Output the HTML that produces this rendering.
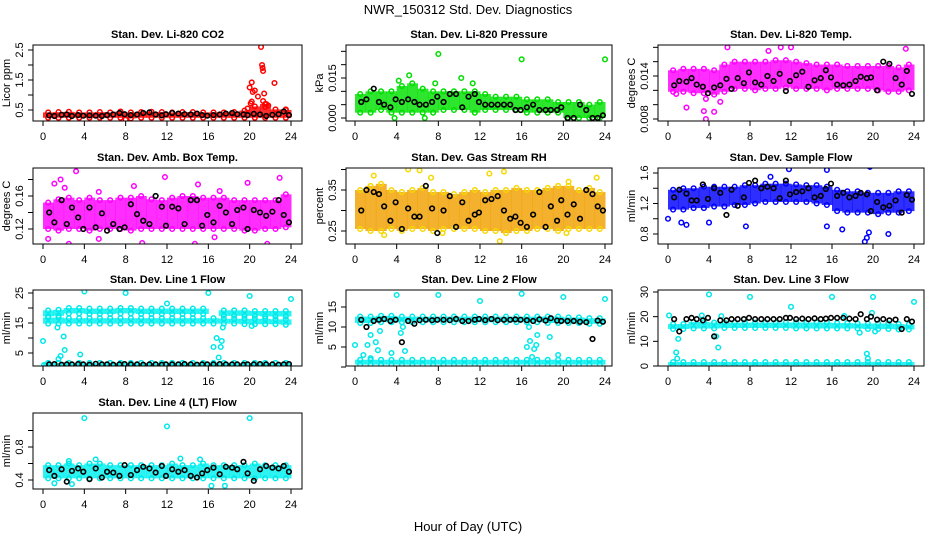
<!DOCTYPE html>
<html><head><meta charset="utf-8"><style>
html,body{margin:0;padding:0;background:#fff;}
svg{display:block;font-family:"Liberation Sans",Arial,sans-serif;}
</style></head><body>
<svg id="c" width="936" height="540" viewBox="0 0 936 540">
<rect width="936" height="540" fill="#fff"/>
<text x="468" y="14" text-anchor="middle" font-size="13">NWR_150312  Std. Dev. Diagnostics</text>
<text x="468" y="531" text-anchor="middle" font-size="13">Hour of Day (UTC)</text>
</svg>
<script>
const blackHours=[0.6,1.1,1.8,2.3,2.8,3.4,3.9,4.5,5.1,5.7,6.2,6.8,7.4,7.9,8.5,9.1,9.7,10.3,10.9,11.5,11.9,12.5,13.1,13.7,14.3,14.9,15.4,15.9,16.5,17.1,17.7,18.3,18.8,19.4,19.8,20.4,21.0,21.6,22.2,22.8,23.3,23.8];
const xTicks=[0,4,8,12,16,20,24];

// CO2
const co2Black=[0.32,0.30,0.34,0.35,0.30,0.33,0.31,0.32,0.31,0.30,0.33,0.35,0.40,0.36,0.33,0.35,0.40,0.42,0.35,0.32,0.36,0.40,0.38,0.36,0.35,0.38,0.33,0.31,0.33,0.35,0.38,0.40,0.36,0.35,0.33,0.37,0.35,0.30,0.34,0.36,0.45,0.33];
const co2Lo=[0.24,0.24,0.24,0.24,0.24,0.24,0.24,0.24,0.22,0.24,0.24,0.24,0.24,0.24,0.24,0.24,0.24,0.24,0.24,0.24,0.24,0.24,0.24,0.24];
const co2Hi=[0.42,0.43,0.44,0.42,0.42,0.43,0.42,0.45,0.42,0.43,0.44,0.43,0.42,0.43,0.43,0.42,0.42,0.42,0.43,0.48,0.62,0.70,0.52,0.50];
const co2Out=[[19.8,0.55],[20.0,1.25],[20.2,1.42],[20.3,1.10],[20.1,0.72],[20.5,1.15],[20.8,0.95],[21.1,2.60],[21.2,2.00],[21.25,1.90],[21.3,1.80],[21.4,1.05],[21.3,0.80],[21.5,0.60],[21.6,0.70],[21.8,0.65],[22.4,1.40],[20.2,0.78],[23.5,0.52],[8.0,0.18]];
// Pressure
const presBlack=[0.006,0.007,0.011,0.006,0.005,0.004,0.007,0.006,0.007,0.006,0.005,0.005,0.006,0.008,0.006,0.009,0.009,0.004,0.008,0.009,0.006,0.005,0.005,0.005,0.005,0.005,0.003,0.003,0.004,0.005,0.003,0.003,0.003,0.003,0.004,0.000,0.000,0.005,0.003,0.000,0.000,0.001];
const presLo=[0.002,0.002,0.003,0.002,0.002,0.002,0.002,0.002,0.003,0.003,0.003,0.002,0.003,0.003,0.003,0.003,0.002,0.002,0.002,0.002,0.000,0.000,0.000,0.000];
const presHi=[0.009,0.010,0.010,0.010,0.012,0.013,0.011,0.010,0.010,0.010,0.010,0.010,0.009,0.008,0.008,0.008,0.007,0.007,0.007,0.006,0.006,0.006,0.005,0.006];
const presOut=[[8,0.024],[16,0.022],[24,0.022],[5.2,0.016],[10.2,0.015],[11.3,0.013],[4.2,0.014],[6.7,0.0],[3.8,0.0],[7.7,0.013]];
// Li-820 Temp
const tempBlack=[0.0127,0.0133,0.0132,0.0137,0.0128,0.0125,0.0116,0.0124,0.0127,0.0136,0.0122,0.0137,0.0130,0.0145,0.0131,0.0128,0.0140,0.0133,0.0143,0.0119,0.0133,0.0141,0.0146,0.0125,0.0134,0.0137,0.0148,0.0138,0.0128,0.0127,0.0128,0.0133,0.0139,0.0137,0.0138,0.0120,0.0160,0.0157,0.0137,0.0128,0.0147,0.0115];
const tempLo=[0.0118,0.0118,0.0116,0.0116,0.0114,0.0118,0.0122,0.0122,0.0120,0.0122,0.0122,0.0124,0.0122,0.0122,0.0122,0.0120,0.0122,0.0122,0.0122,0.0122,0.0120,0.0118,0.0118,0.0120];
const tempHi=[0.0148,0.0150,0.0150,0.0150,0.0148,0.0156,0.0160,0.0160,0.0160,0.0160,0.0162,0.0162,0.0160,0.0158,0.0156,0.0156,0.0156,0.0154,0.0154,0.0154,0.0154,0.0154,0.0152,0.0156];
const tempOut=[[1.8,0.0096],[3.5,0.0091],[3.7,0.0080],[4.5,0.0090],[5.1,0.0104],[3.7,0.0108],[5.8,0.0180],[11,0.0180],[12,0.0180],[23.2,0.0178],[0.8,0.0115],[9.8,0.0175]];
// Amb Box Temp
const ambBlack=[0.140,0.128,0.155,0.126,0.146,0.134,0.120,0.146,0.122,0.139,0.118,0.126,0.120,0.122,0.150,0.138,0.130,0.126,0.160,0.147,0.124,0.147,0.145,0.126,0.155,0.155,0.124,0.137,0.128,0.148,0.140,0.126,0.143,0.146,0.120,0.143,0.140,0.136,0.141,0.155,0.137,0.128];
const ambLo=[0.120,0.118,0.120,0.120,0.118,0.120,0.120,0.120,0.118,0.120,0.120,0.120,0.120,0.120,0.120,0.120,0.120,0.120,0.120,0.118,0.118,0.120,0.120,0.122];
const ambHi=[0.152,0.156,0.158,0.155,0.158,0.155,0.155,0.158,0.158,0.160,0.156,0.155,0.158,0.160,0.160,0.158,0.158,0.158,0.155,0.155,0.155,0.155,0.155,0.162];
const ambOut=[[0.5,0.108],[1.1,0.175],[1.7,0.180],[2.1,0.170],[2.5,0.102],[3.2,0.190],[5.4,0.165],[5.4,0.108],[9.6,0.103],[11.8,0.183],[14.7,0.102],[15.0,0.174],[16.6,0.110],[21.7,0.102],[22.9,0.182],[19.8,0.176],[17.1,0.166],[8.8,0.172]];
// RH
const rhBlack=[0.300,0.350,0.345,0.340,0.310,0.275,0.320,0.255,0.305,0.285,0.285,0.360,0.305,0.245,0.300,0.335,0.260,0.320,0.275,0.290,0.295,0.325,0.328,0.335,0.300,0.280,0.285,0.270,0.260,0.290,0.345,0.260,0.310,0.275,0.325,0.290,0.315,0.280,0.350,0.340,0.310,0.300];
const rhLo=[0.255,0.250,0.250,0.255,0.250,0.255,0.255,0.250,0.255,0.255,0.255,0.255,0.250,0.250,0.245,0.250,0.250,0.255,0.255,0.250,0.255,0.255,0.255,0.255];
const rhHi=[0.350,0.360,0.365,0.350,0.345,0.350,0.355,0.345,0.345,0.340,0.345,0.350,0.345,0.350,0.350,0.355,0.350,0.350,0.355,0.360,0.360,0.350,0.355,0.345];
const rhOut=[[2.8,0.240],[5.1,0.400],[6.2,0.398],[7.3,0.380],[8.4,0.245],[12.9,0.390],[13.9,0.225],[14.3,0.395],[20.3,0.245],[23.2,0.380],[1.8,0.385],[20.5,0.370]];
// Sample Flow
const sfBlack=[1.28,1.38,1.33,1.24,1.24,1.45,1.26,1.40,1.34,1.05,1.38,1.17,1.28,1.47,1.50,1.40,1.42,1.40,1.27,1.50,1.32,1.35,1.36,1.40,1.28,1.30,1.39,1.46,1.30,1.34,1.28,1.30,1.34,1.32,1.10,1.22,1.15,1.17,1.24,1.08,1.31,1.25];
const sfLo=[1.12,1.12,1.14,1.14,1.16,1.16,1.18,1.18,1.20,1.22,1.22,1.22,1.22,1.22,1.20,1.18,1.10,1.08,1.08,1.08,1.06,1.08,1.08,1.10];
const sfHi=[1.38,1.40,1.40,1.42,1.42,1.42,1.42,1.44,1.44,1.46,1.46,1.46,1.45,1.44,1.44,1.42,1.38,1.36,1.36,1.34,1.34,1.34,1.36,1.36];
const sfOut=[[0.0,1.00],[1.3,0.95],[1.8,0.92],[7.6,0.90],[19.2,0.70],[19.4,0.75],[19.6,0.82],[18.7,1.70],[19.7,1.68],[11.8,1.65],[15.5,1.64],[21.5,0.80],[15.5,0.90],[17.0,0.86],[10.0,1.55],[4.0,0.95]];
// Line 1
const l1Black=[1.2,1.3,1.1,1.2,1.2,1.3,1.2,1.1,1.4,1.2,1.2,1.1,1.2,1.3,1.2,1.2,1.1,1.2,1.2,1.1,1.2,1.2,1.2,1.3,1.2,1.1,1.2,1.2,1.2,1.3,1.2,1.2,1.2,1.1,1.2,1.2,1.3,1.2,1.2,1.1,1.2,1.3];
const l1LoA=[0.6,0.6,0.6,0.6,0.6,0.6,0.6,0.6,0.6,0.6,0.6,0.6,0.6,0.6,0.6,0.6,0.6,0.6,0.6,0.6,0.6,0.6,0.6,0.6];
const l1HiA=[1.7,1.7,1.7,1.7,1.7,1.7,1.7,1.7,1.7,1.7,1.7,1.7,1.7,1.7,1.7,1.7,1.7,1.7,1.7,1.7,1.7,1.7,1.7,1.7];
const l1LoB=[14.8,14.8,14.8,14.8,14.8,14.8,14.8,14.8,14.8,14.8,14.8,14.8,14.8,14.8,14.8,14.8,14.8,14.8,14.8,14.6,14.6,14.6,14.6,14.4];
const l1HiB=[16.8,16.8,16.6,16.6,16.6,16.6,16.6,16.6,16.6,16.6,16.6,16.6,16.6,16.6,16.6,16.6,16.6,16.4,16.4,16.4,16.4,16.4,16.2,16.2];
const l1LoC=[17.2,17.4,18.2,18.2,18.0,18.0,18.0,18.2,18.2,18.0,18.0,18.0,18.0,18.0,18.0,18.0,null,17.4,17.4,17.4,17.4,17.2,17.2,17.2];
const l1HiC=[19.2,19.4,20.0,20.0,19.8,19.8,19.8,20.0,20.0,19.8,19.8,19.8,19.8,19.8,19.8,19.8,null,19.2,19.2,19.2,19.0,19.0,19.0,19.0];
const l1Out=[[0.0,9],[0.1,1],[1.5,3],[1.7,4],[2.0,10.5],[2.1,6],[1.4,13.5],[3.6,4.5],[4.0,25.5],[8.0,25],[12.0,21.5],[16.0,25],[20.0,24],[24.0,23],[16.5,7],[16.8,10],[17.0,3.5],[17.2,7],[17.3,9],[17.4,13.5],[20.2,14]];
// Line 2
const l2Black=[11.8,10.0,11.5,11.8,12.0,11.5,11.8,6.2,11.5,10.8,11.7,11.8,11.7,11.8,11.8,11.7,12.0,11.5,11.5,11.8,12.0,11.7,12.0,11.7,11.8,11.8,11.9,11.8,11.7,11.5,11.9,11.6,12.2,11.6,11.5,11.5,11.5,11.3,11.2,7.0,11.6,11.3];
const l2LoA=[0.6,0.6,0.6,0.6,0.6,0.6,0.6,0.6,0.6,0.6,0.6,0.6,0.6,0.6,0.6,0.6,0.6,0.6,0.6,0.6,0.6,0.6,0.6,0.6];
const l2HiA=[1.8,1.8,1.8,1.8,1.8,1.8,1.8,1.8,1.8,1.8,1.8,1.8,1.8,1.8,1.8,1.8,1.8,1.8,1.8,1.8,1.8,1.8,1.8,1.8];
const l2LoB=[11.0,11.0,11.2,11.2,11.2,11.2,11.2,11.2,11.2,11.2,11.2,11.2,11.2,11.2,11.2,11.2,11.2,11.2,11.0,11.0,11.0,11.0,10.8,10.8];
const l2HiB=[12.6,12.6,12.8,12.8,12.6,12.6,12.6,12.6,12.6,12.6,12.6,12.6,12.6,12.6,12.6,12.6,12.6,12.6,12.6,12.6,12.4,12.4,12.2,12.2];
const l2Out=[[0,5.5],[0.8,3],[1.2,5.5],[1.5,8],[2.0,6.2],[2.2,4.2],[2.4,9],[3.5,3.5],[4,18],[4.4,8.5],[4.6,10],[4.8,4],[8,18],[12,16.5],[16,18.3],[16.5,5],[16.7,10],[16.8,6.5],[17,2.5],[17.2,4.5],[17.4,5.5],[17.5,8],[18.7,7.5],[19.5,3],[20,17.5],[24,17],[1.5,2.2]];
// Line 3
const l3Black=[19.0,14.0,19.0,19.5,19.0,18.5,19.5,12.0,18.5,18.5,19.0,19.0,19.0,19.5,19.0,19.0,19.0,19.0,19.0,19.5,19.5,19.0,19.2,19.0,19.3,19.0,19.2,19.5,19.5,19.5,19.2,19.0,21.0,19.0,20.0,18.8,19.0,18.5,18.8,15.0,19.0,18.0];
const l3LoA=[0.3,0.3,0.3,0.3,0.3,0.3,0.3,0.3,0.3,0.3,0.3,0.3,0.3,0.3,0.3,0.3,0.3,0.3,0.3,0.3,0.3,0.3,0.3,0.3];
const l3HiA=[1.6,1.6,1.6,1.6,1.6,1.6,1.6,1.6,1.6,1.6,1.6,1.6,1.6,1.6,1.6,1.6,1.6,1.6,1.6,1.6,1.6,1.6,1.6,1.6];
const l3LoB=[15.0,15.0,15.2,15.2,15.2,15.4,15.4,15.4,15.4,15.4,15.4,15.4,15.2,15.2,15.2,15.2,15.2,15.2,15.2,15.0,15.0,15.0,14.8,14.8];
const l3HiB=[17.0,17.0,17.8,17.8,17.6,17.6,17.6,17.6,17.6,17.6,17.6,17.6,17.6,17.6,17.6,17.6,17.4,17.4,17.2,17.2,17.2,17.2,17.0,16.8];
const l3Out=[[0.1,20.5],[0.8,5.5],[1.0,11],[0.9,3],[3.3,20.5],[4,29],[4.7,12],[4.9,7.5],[8,28],[12,24],[16,28],[18.7,13.5],[19.4,5],[19.5,3],[19.9,21.5],[20,28],[20.2,14],[24,26],[5.2,20.2],[17.2,20.3]];
// Line 4
const l4Black=[0.52,0.45,0.53,0.38,0.51,0.54,0.50,0.41,0.54,0.43,0.50,0.49,0.45,0.58,0.46,0.52,0.56,0.54,0.49,0.57,0.45,0.53,0.50,0.52,0.45,0.43,0.48,0.52,0.55,0.47,0.56,0.55,0.53,0.62,0.48,0.39,0.53,0.57,0.55,0.54,0.57,0.50];
const l4Lo=[0.42,0.42,0.42,0.42,0.42,0.42,0.42,0.42,0.42,0.42,0.42,0.42,0.42,0.42,0.42,0.42,0.42,0.42,0.42,0.42,0.42,0.42,0.42,0.42];
const l4Hi=[0.58,0.58,0.60,0.58,0.60,0.60,0.58,0.58,0.58,0.58,0.58,0.58,0.60,0.58,0.58,0.60,0.58,0.58,0.58,0.58,0.60,0.58,0.58,0.58];
const l4Out=[[4,1.15],[12,1.05],[20,1.15],[2.8,0.35],[16.3,0.33],[17.6,0.33],[1.1,0.36],[13.3,0.66],[5.1,0.65],[2.5,0.63],[15.2,0.65]];

const colL=[33,346,658], colR=[302,612,924], t0=[43,355,668], t24=[291,605,914];
const rowT=[45,168,290,413], BH=76;
const panels=[
 {name:'co2',title:'Stan. Dev. Li-820 CO2',ylab:'Licor ppm',c:0,r:0,v0:0.5,p0:110,v1:2.5,p1:50,ticks:[0.5,1,1.5,2,2.5],labs:[[0.5,'0.5'],[1.5,'1.5'],[2.5,'2.5']],col:'#ff0000',oc:'#ff0000',bands:[[co2Lo,co2Hi]],out:co2Out,black:co2Black},
 {name:'pressure',title:'Stan. Dev. Li-820 Pressure',ylab:'kPa',c:1,r:0,v0:0,p0:118,v1:0.015,p1:78,ticks:[0,0.005,0.01,0.015,0.02,0.025],labs:[[0,'0.000'],[0.015,'0.015']],col:'#00e000',oc:'#00dd00',bands:[[presLo,presHi]],out:presOut,black:presBlack},
 {name:'li820-temp',title:'Stan. Dev. Li-820 Temp.',ylab:'degrees C',c:2,r:0,v0:0.008,p0:119,v1:0.014,p1:76,ticks:[0.008,0.010,0.012,0.014,0.016,0.018],labs:[[0.008,'0.008'],[0.014,'0.014']],col:'#ff00ff',oc:'#ff00ff',bands:[[tempLo,tempHi]],out:tempOut,black:tempBlack},
 {name:'amb-box-temp',title:'Stan. Dev. Amb. Box Temp.',ylab:'degrees C',c:0,r:1,v0:0.12,p0:229,v1:0.16,p1:196,ticks:[0.12,0.14,0.16,0.18],labs:[[0.12,'0.12'],[0.16,'0.16']],col:'#ff00ff',oc:'#ff00ff',bands:[[ambLo,ambHi]],out:ambOut,black:ambBlack},
 {name:'gas-stream-rh',title:'Stan. Dev. Gas Stream RH',ylab:'percent',c:1,r:1,v0:0.25,p0:231,v1:0.35,p1:190,ticks:[0.25,0.30,0.35,0.40],labs:[[0.25,'0.25'],[0.35,'0.35']],col:'#f0a000',oc:'#f5d800',bands:[[rhLo,rhHi]],out:rhOut,black:rhBlack},
 {name:'sample-flow',title:'Stan. Dev. Sample Flow',ylab:'ml/min',c:2,r:1,v0:0.8,p0:234,v1:1.6,p1:173,ticks:[0.8,1.0,1.2,1.4,1.6],labs:[[0.8,'0.8'],[1.2,'1.2'],[1.6,'1.6']],col:'#0000ff',oc:'#0000ff',bands:[[sfLo,sfHi]],out:sfOut,black:sfBlack},
 {name:'line1-flow',title:'Stan. Dev. Line 1 Flow',ylab:'ml/min',c:0,r:2,v0:5,p0:353,v1:25,p1:293,ticks:[5,10,15,20,25],labs:[[5,'5'],[15,'15'],[25,'25']],col:'#00f0f0',oc:'#00e8e8',bands:[[l1LoA,l1HiA],[l1LoB,l1HiB],[l1LoC,l1HiC]],out:l1Out,black:l1Black},
 {name:'line2-flow',title:'Stan. Dev. Line 2 Flow',ylab:'ml/min',c:1,r:2,v0:0,p0:367,v1:15,p1:307,ticks:[0,5,10,15],labs:[[5,'5'],[10,'10'],[15,'15']],col:'#00f0f0',oc:'#00e8e8',bands:[[l2LoA,l2HiA],[l2LoB,l2HiB]],out:l2Out,black:l2Black},
 {name:'line3-flow',title:'Stan. Dev. Line 3 Flow',ylab:'ml/min',c:2,r:2,v0:0,p0:366,v1:30,p1:292,ticks:[0,10,20,30],labs:[[0,'0'],[10,'10'],[20,'20'],[30,'30']],col:'#00f0f0',oc:'#00e8e8',bands:[[l3LoA,l3HiA],[l3LoB,l3HiB]],out:l3Out,black:l3Black},
 {name:'line4-flow',title:'Stan. Dev. Line 4 (LT) Flow',ylab:'ml/min',c:0,r:3,v0:0.4,p0:480,v1:0.8,p1:447,ticks:[0.4,0.6,0.8,1.0],labs:[[0.4,'0.4'],[0.8,'0.8']],col:'#00f0f0',oc:'#00e8e8',bands:[[l4Lo,l4Hi]],out:l4Out,black:l4Black}
];
const NS='http://www.w3.org/2000/svg';
const svg=document.getElementById('c');
function mk(tag,attrs,parent){const e=document.createElementNS(NS,tag);for(const k in attrs)e.setAttribute(k,attrs[k]);(parent||svg).appendChild(e);return e;}
panels.forEach(p=>{
  const L=colL[p.c],R=colR[p.c],T=rowT[p.r],B=T+BH;
  const xs=h=>t0[p.c]+(t24[p.c]-t0[p.c])*h/24;
  const ys=v=>p.p0+(p.p1-p.p0)*(v-p.v0)/(p.v1-p.v0);
  const g=mk('g',{});
  
  
  const clip=mk('clipPath',{id:'cl-'+p.name},g);
  mk('rect',{x:L,y:T,width:R-L,height:B-T},clip);
  const plot=mk('g',{'clip-path':'url(#cl-'+p.name+')'},g);
  p.bands.forEach(([lo,hi])=>{
    lo.forEach((v,i)=>{
      if(v==null||hi[i]==null) return;
      const y1=ys(hi[i]),y2=ys(v);
      const r=mk('rect',{x:xs(i),y:y1,width:xs(i+1)-xs(i)+0.5,height:y2-y1,fill:p.col,'fill-opacity':0.82},plot);
      
      
      [v,hi[i]].forEach(w=>{
        const c=mk('circle',{cx:xs(i+0.5),cy:ys(w),r:2.3,fill:'none',stroke:p.oc,'stroke-width':1.5},plot);
        
        
      });
    });
  });
  p.out.forEach(([h,v])=>{
    const c=mk('circle',{cx:xs(h),cy:ys(v),r:2.3,fill:'none',stroke:p.oc,'stroke-width':1.5},plot);
    
    
  });
  p.black.forEach((v,i)=>{
    const c=mk('circle',{cx:xs(blackHours[i]),cy:ys(v),r:2.3,fill:'none',stroke:'#000','stroke-width':1.6},plot);
    
    
  });
  const box=mk('rect',{x:L,y:T,width:R-L,height:B-T,fill:'none',stroke:'#000','stroke-width':1},g);
  
  
  const tt=mk('text',{x:(L+R)/2,y:T-7,'text-anchor':'middle','font-size':11,'font-weight':'bold'},g);
  tt.textContent=p.title;
  
  
  xTicks.forEach(h=>{
    mk('line',{x1:xs(h),x2:xs(h),y1:B,y2:B+5,stroke:'#000'},g);
    const t=mk('text',{x:xs(h),y:B+19,'text-anchor':'middle','font-size':11},g);
    t.textContent=h;
    
    
  });
  p.ticks.forEach(v=>{mk('line',{x1:L-5,x2:L,y1:ys(v),y2:ys(v),stroke:'#000'},g);});
  p.labs.forEach(([v,s])=>{
    const t=mk('text',{x:0,y:0,'text-anchor':'middle','font-size':11,transform:`translate(${L-10},${ys(v)}) rotate(-90)`},g);
    t.textContent=s;
    
    
  });
  const yl=mk('text',{x:0,y:0,'text-anchor':'middle','font-size':11,transform:`translate(${L-23},${(T+B)/2}) rotate(-90)`},g);
  yl.textContent=p.ylab;
  
  
});
</script>
</body></html>
